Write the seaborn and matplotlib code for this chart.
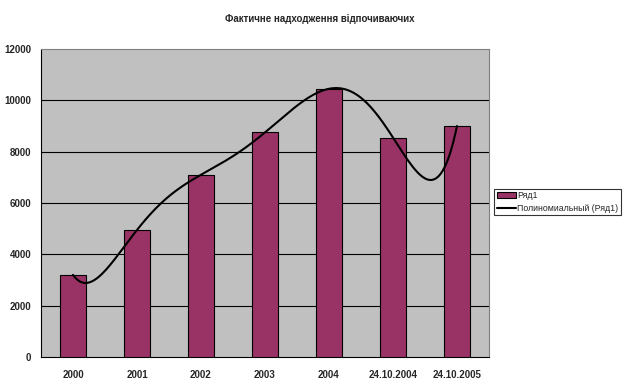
import numpy as np
import pandas as pd
import matplotlib
matplotlib.use("Agg")
import matplotlib.pyplot as plt
import seaborn as sns
from matplotlib.patches import Patch
from matplotlib.lines import Line2D

# values
categories = ["2000", "2001", "2002", "2003", "2004", "24.10.2004", "24.10.2005"]
values = [3200, 4950, 7100, 8750, 10450, 8550, 9000]
yticks = [0, 2000, 4000, 6000, 8000, 10000, 12000]

df = pd.DataFrame({"cat": categories, "val": values})

sns.set_style("white")
plt.rcParams["font.family"] = ["Liberation Sans", "DejaVu Sans"]

fig = plt.figure(figsize=(6.25, 3.88), dpi=100)
ax = fig.add_axes([41 / 625, 1 - 357 / 388, 448 / 625, 308 / 388])
ax.set_facecolor("#C0C0C0")

sns.barplot(data=df, x="cat", y="val", color="#993366", width=0.4,
            edgecolor="black", linewidth=0.8, saturation=1, ax=ax, zorder=3)

# polynomial trendline (order 6, Excel style)
xs = np.arange(len(values))
coef = np.polyfit(xs, values, 6)
xx = np.linspace(0, len(values) - 1, 300)
ax.plot(xx, np.polyval(coef, xx), color="black", lw=1.5, zorder=4)

ax.set_xlim(-0.5, len(values) - 0.5)
ax.set_ylim(0, 12000)
ax.set_yticks(yticks)
ax.set_yticklabels([str(t) for t in yticks], fontsize=7, fontweight="bold")
ax.set_xticks(xs)
ax.set_xticklabels(categories, fontsize=7, fontweight="bold")
ax.tick_params(axis="x", length=0, pad=9)
ax.set_xticks(np.arange(-0.5, len(values), 1), minor=True)
ax.tick_params(axis="x", which="minor", length=4, width=0.8, direction="out")
ax.tick_params(axis="y", length=4, width=0.8, direction="out", pad=3)
ax.set_xlabel("")
ax.set_ylabel("")
for y in yticks[1:-1]:
    ax.axhline(y, color="black", lw=0.8, zorder=1)
for s in ax.spines.values():
    s.set_color("#808080")
    s.set_linewidth(0.8)
ax.spines["left"].set_color("black")
ax.spines["bottom"].set_color("black")

fig.text(320 / 625, 1 - 19 / 388, "Фактичне надходження відпочиваючих",
         ha="center", va="center", fontsize=7, fontweight="bold")

# legend
handles = [Patch(facecolor="#993366", edgecolor="black", linewidth=0.8),
           Line2D([0], [0], color="black", lw=1.5)]
leg = fig.legend(handles, ["Ряд1", "Полиномиальный (Ряд1)"],
                 loc="center left", bbox_to_anchor=(494 / 625, 1 - 202 / 388),
                 fontsize=6.3, frameon=True, fancybox=False, borderpad=0.3,
                 handlelength=2.2, handletextpad=0.1, labelspacing=0.4,
                 borderaxespad=0)
leg.get_frame().set_edgecolor("black")
leg.get_frame().set_linewidth(0.8)

fig.savefig("out.png", dpi=100)
